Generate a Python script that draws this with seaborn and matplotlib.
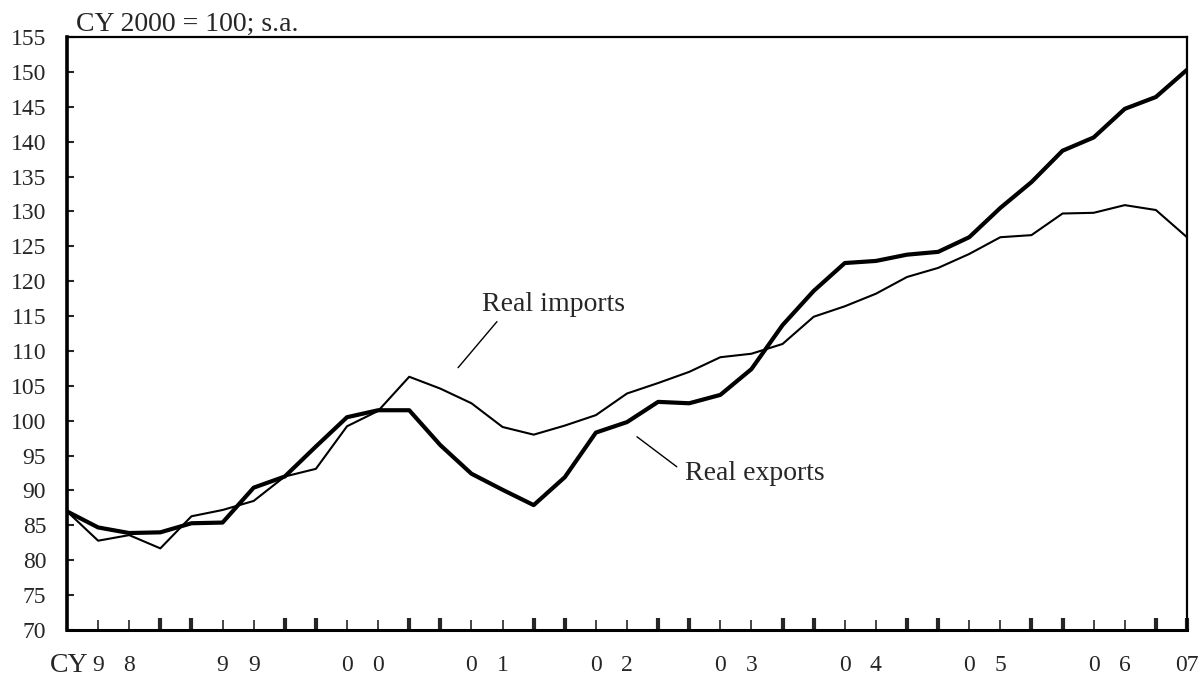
import numpy as np
import pandas as pd
import matplotlib
matplotlib.use("Agg")
import matplotlib.pyplot as plt
import seaborn as sns

# ---- data (quarterly, 1998Q1 .. 2007Q1), CY 2000 = 100, s.a. ----
years = list(range(1998, 2007))
real_exports = [87.0, 84.7, 83.9, 84.0, 85.3, 85.4, 90.4, 92.0, 96.3, 100.5,
                101.5, 101.5, 96.5, 92.4, 90.1, 87.9, 91.9, 98.3, 99.8, 102.7,
                102.5, 103.7, 107.4, 113.7, 118.6, 122.6, 122.9, 123.8, 124.2,
                126.3, 130.5, 134.2, 138.7, 140.6, 144.7, 146.4, 150.3]
real_imports = [87.0, 82.8, 83.6, 81.7, 86.3, 87.2, 88.5, 92.0, 93.1, 99.2,
                101.4, 106.3, 104.6, 102.5, 99.1, 98.0, 99.3, 100.8, 103.9, 105.4,
                107.0, 109.1, 109.6, 111.0, 114.9, 116.4, 118.2, 120.6, 121.9,
                123.9, 126.3, 126.6, 129.7, 129.8, 130.9, 130.2, 126.3]
year_digits = ["98", "99", "00", "01", "02", "03", "04", "05", "06"]
last_label = "07"
y_ticks = list(range(70, 160, 5))

n = len(real_exports)
pos = np.arange(n)
df = pd.DataFrame({"pos": pos, "exports": real_exports, "imports": real_imports})

sns.set_style("white")
plt.rcParams["font.family"] = ["Liberation Serif", "DejaVu Serif"]

fig = plt.figure(figsize=(12, 6.79), dpi=100)
ax = fig.add_axes([67 / 1200, 1 - 630 / 679, 1120 / 1200, 593 / 679])

sns.lineplot(data=df, x="pos", y="imports", ax=ax, color="black", linewidth=1.5)
sns.lineplot(data=df, x="pos", y="exports", ax=ax, color="black", linewidth=3.0)

ax.set_xlim(0, n - 1)
ax.set_ylim(70, 155)
ax.set_xlabel("")
ax.set_ylabel("")

# y axis
ax.set_yticks(y_ticks)
ax.set_yticklabels([str(v) for v in y_ticks], fontsize=17)
ax.tick_params(axis="y", direction="in", length=5, width=1.5, pad=15, left=True, right=False)

# x axis: one tick per quarter, digits of the year under Q2 and Q3
labels = [""] * n
for k, yy in enumerate(year_digits):
    labels[4 * k + 1] = yy[0]
    labels[4 * k + 2] = yy[1]
labels[n - 1] = last_label
ax.set_xticks(pos)
ax.set_xticklabels(labels, fontsize=17)
ax.tick_params(axis="x", direction="in", length=7, width=1.2, pad=18, bottom=True)
for i, t in enumerate(ax.xaxis.get_major_ticks()):
    if i == 0:
        t.tick1line.set_visible(False)
    elif i % 4 in (0, 3):
        t.tick1line.set_markersize(9)
        t.tick1line.set_markeredgewidth(3.0)

for side, w in (("left", 2.6), ("bottom", 2.2), ("top", 1.6), ("right", 1.6)):
    ax.spines[side].set_visible(True)
    ax.spines[side].set_color("black")
    ax.spines[side].set_linewidth(w)

# texts
fig.text(76 / 1200, 1 - 31 / 679, "CY 2000 = 100; s.a.", fontsize=20, ha="left", va="baseline")
fig.text(50 / 1200, 0.5 / 679, "CY", fontsize=20, ha="left", va="bottom")

ax.annotate("", xy=(12.57, 107.6), xytext=(13.82, 114.2),
            arrowprops=dict(arrowstyle="-", color="black", lw=1.0, shrinkA=0, shrinkB=0))
ax.text(13.35, 116.7, "Real imports", fontsize=20, ha="left", va="center")
ax.annotate("", xy=(19.6, 93.4), xytext=(18.32, 97.7),
            arrowprops=dict(arrowstyle="-", color="black", lw=1.0, shrinkA=0, shrinkB=0))
ax.text(19.87, 92.4, "Real exports", fontsize=20, ha="left", va="center")

fig.savefig("out.png", dpi=100)
